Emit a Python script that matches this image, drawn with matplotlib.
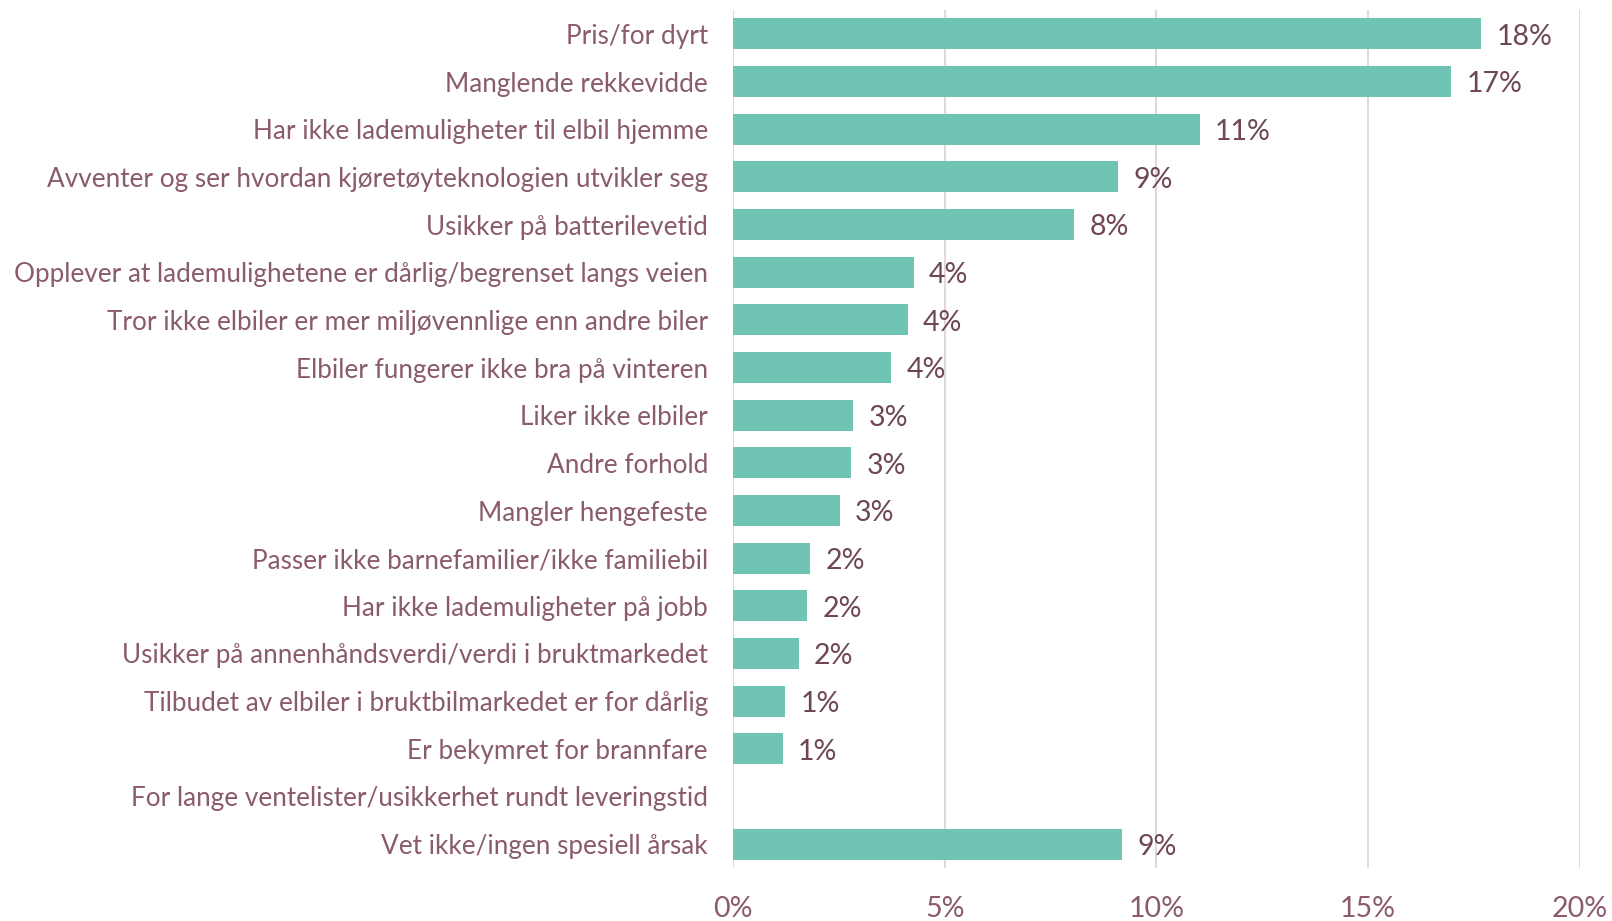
import matplotlib
matplotlib.use("Agg")
import matplotlib.pyplot as plt
from matplotlib.ticker import FuncFormatter

categories = [
    "Pris/for dyrt",
    "Manglende rekkevidde",
    "Har ikke lademuligheter til elbil hjemme",
    "Avventer og ser hvordan kjøretøyteknologien utvikler seg",
    "Usikker på batterilevetid",
    "Opplever at lademulighetene er dårlig/begrenset langs veien",
    "Tror ikke elbiler er mer miljøvennlige enn andre biler",
    "Elbiler fungerer ikke bra på vinteren",
    "Liker ikke elbiler",
    "Andre forhold",
    "Mangler hengefeste",
    "Passer ikke barnefamilier/ikke familiebil",
    "Har ikke lademuligheter på jobb",
    "Usikker på annenhåndsverdi/verdi i bruktmarkedet",
    "Tilbudet av elbiler i bruktbilmarkedet er for dårlig",
    "Er bekymret for brannfare",
    "For lange ventelister/usikkerhet rundt leveringstid",
    "Vet ikke/ingen spesiell årsak",
]
values = [17.67, 16.97, 11.02, 9.10, 8.06, 4.27, 4.13, 3.74, 2.84, 2.79,
          2.52, 1.82, 1.75, 1.55, 1.24, 1.17, 0.0, 9.20]
xticks = [0, 5, 10, 15, 20]

BAR = "#70C4B4"
TXT = "#8A5A6E"
LBL = "#6E4658"
GRID = "#E3D7DC"

plt.rcParams['font.family'] = ['Lato', 'DejaVu Sans']

fig = plt.figure(figsize=(16.12, 9.21), dpi=100)
ax = fig.add_axes([0.4547, 0.0576, 0.5253, 0.9314])

y = list(range(len(categories)))
ax.barh(y, values, height=0.65, color=BAR, zorder=3)
for yi, v in zip(y, values):
    if v > 0:
        ax.annotate(f"{round(v):.0f}%", (v, yi), xytext=(11, -2), textcoords="offset points",
                    va="center", ha="left", fontsize=20.5, color=LBL)

ax.set_xlim(0, 20)
ax.set_ylim(len(categories) - 0.5, -0.5)
ax.set_xticks(xticks)
ax.xaxis.set_major_formatter(FuncFormatter(lambda v, p: f"{v:.0f}%"))
ax.set_yticks(y)
ax.set_yticklabels(categories)
ax.tick_params(axis='y', length=0, pad=18, labelsize=18.8, labelcolor=TXT)
ax.tick_params(axis='x', length=0, pad=20, labelsize=20.5, labelcolor=TXT)
ax.grid(axis='x', color=GRID, linewidth=1.5, zorder=0)
for s in ax.spines.values():
    s.set_visible(False)

fig.savefig("out.png", dpi=100)
